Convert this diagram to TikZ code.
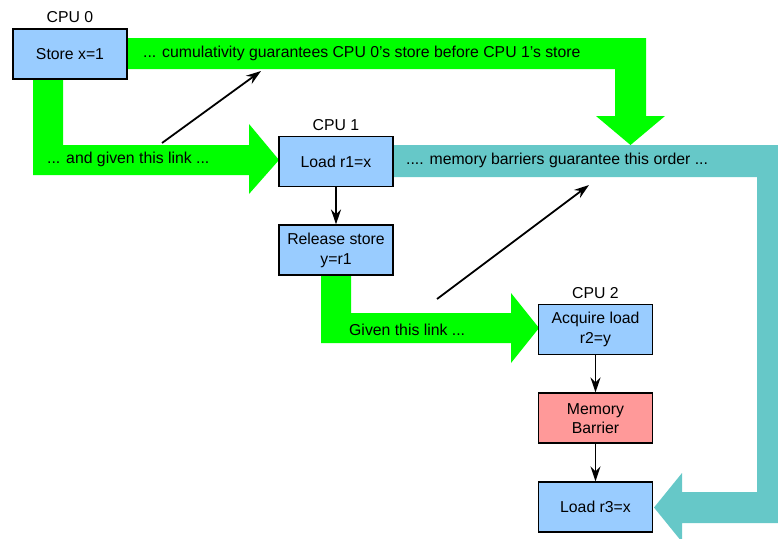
\documentclass[tikz,border=0pt]{standalone}
\usepackage{fontspec}
\setmainfont{Liberation Sans}
\usetikzlibrary{positioning, arrows.meta}
\definecolor{boxblue}{RGB}{153,204,255}
\definecolor{barrierred}{RGB}{255,153,153}
\definecolor{linkgreen}{RGB}{0,255,0}
\definecolor{orderteal}{RGB}{102,200,200}

\begin{document}
\begin{tikzpicture}[
    x=1pt, y=-1pt,
    cpubox/.style={rectangle, draw=black, line width=1.9pt, fill=boxblue, minimum width=114pt, minimum height=50pt, align=center, inner sep=2pt, font=\fontsize{15.8}{19.5}\selectfont},
    barrierbox/.style={cpubox, fill=barrierred},
    cpulabel/.style={inner sep=0pt, font=\fontsize{15.8}{18}\selectfont},
    bandtext/.style={anchor=west, inner sep=0pt, font=\fontsize{15.8}{18}\selectfont},
    greenband/.style={fill=linkgreen},
    tealband/.style={fill=orderteal},
    arr/.style={-{Stealth[length=15pt, width=10pt, inset=5pt]}, line width=1.8pt, draw=black}
]
    \useasboundingbox (0,0) rectangle (778,538);
    \clip (0,0) rectangle (778,538);

    \fill[greenband] (100,38) -- (646,38) -- (646,116) -- (665,116) -- (630.5,145) -- (596,116) -- (615,116) -- (615,69) -- (100,69) -- cycle;
    \fill[greenband] (33,60) -- (63,60) -- (63,145) -- (249,145) -- (249,124) -- (279,160) -- (249,194) -- (249,175) -- (33,175) -- cycle;
    \fill[tealband] (380,145) -- (789,145) -- (789,523) -- (682,523) -- (682,542) -- (654,507.5) -- (682,473) -- (682,492) -- (757,492) -- (757,177) -- (380,177) -- cycle;
    \fill[greenband] (321,260) -- (351,260) -- (351,313) -- (511,313) -- (511,293) -- (539,328) -- (511,363) -- (511,343) -- (321,343) -- cycle;

    \node[cpubox] (store) at (70,54) {Store x=1};
    \node[cpulabel, above=5pt of store] (cpu0) {CPU 0};

    \node[cpubox] (load1) at (336,161.5) {Load r1=x};
    \node[cpulabel, above=5pt of load1] (cpu1) {CPU 1};
    \node[cpubox, below=37pt of load1] (release) {Release store\\y=r1};

    \node[cpubox] (acquire) at (595.5,329.5) {Acquire load\\r2=y};
    \node[cpulabel, above=5pt of acquire] (cpu2) {CPU 2};
    \node[barrierbox, below=37pt of acquire] (barrier) {Memory\\Barrier};
    \node[cpubox, below=37pt of barrier] (load3) {Load r3=x};

    \node[bandtext] (cumul) at (143,53) {... cumulativity guarantees CPU 0's store before CPU 1's store};
    \node[bandtext] (link1) at (47,159) {... and given this link ...};
    \node[bandtext] (order) at (406,160) {.... memory barriers guarantee this order ...};
    \node[bandtext] (link2) at (349,330) {Given this link ...};

    \draw[arr] (load1) -- (release);
    \draw[arr] (acquire) -- (barrier);
    \draw[arr] (barrier) -- (load3);

    \coordinate (diag1s) at (162,143);
    \coordinate (diag1e) at (261,71);
    \coordinate (diag2s) at (437,299);
    \coordinate (diag2e) at (589,185);
    \draw[arr] (diag1s) -- (diag1e);
    \draw[arr] (diag2s) -- (diag2e);
\end{tikzpicture}
\end{document}
